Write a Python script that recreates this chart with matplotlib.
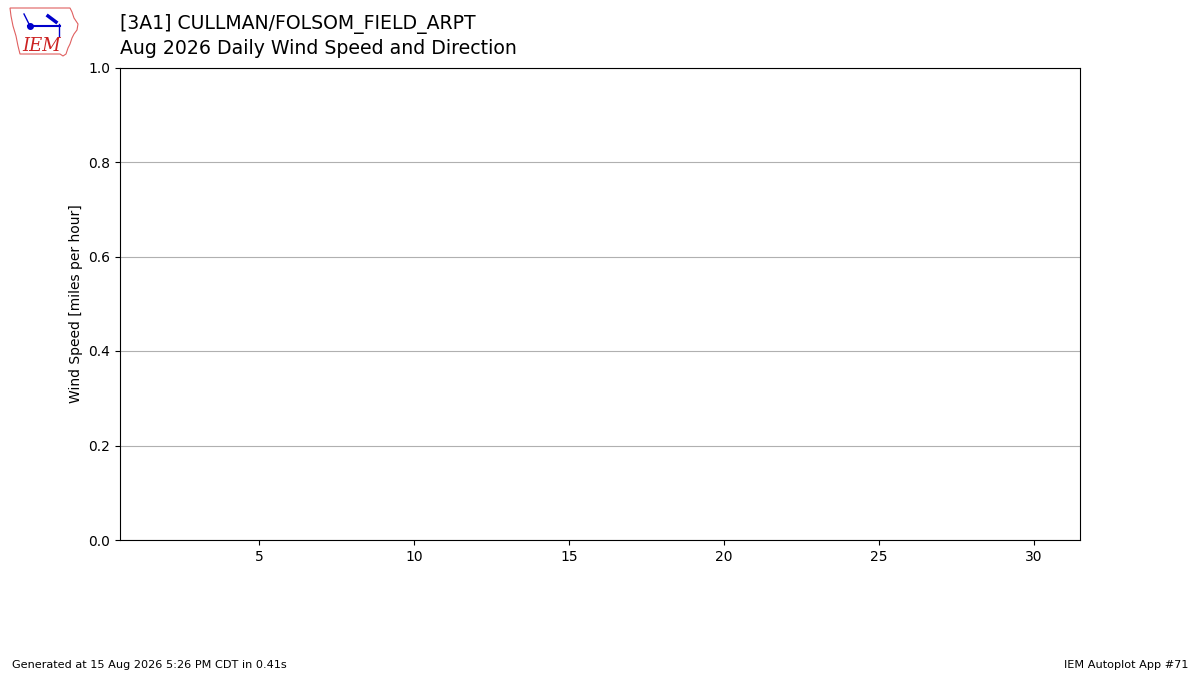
import matplotlib
matplotlib.use('Agg')
import matplotlib.pyplot as plt
from matplotlib.patches import Polygon

# -------------------------- data (no observations for this month) --------------------------
station = "[3A1] CULLMAN/FOLSOM_FIELD_ARPT"
subtitle = "Aug 2026 Daily Wind Speed and Direction"
days = []          # day of month with data
speeds = []        # average wind speed [mph]
x_ticks = [5, 10, 15, 20, 25, 30]
y_ticks = [0.0, 0.2, 0.4, 0.6, 0.8, 1.0]

fig = plt.figure(figsize=(12, 6.75), dpi=100)
ax = fig.add_axes([0.1, 0.2, 0.8, 0.7])

ax.bar(days, speeds, color='tab:blue')
ax.set_xlim(0.5, 31.5)
ax.set_ylim(0, 1)
ax.set_xticks(x_ticks)
ax.set_yticks(y_ticks)
ax.grid(True, axis='y')
ax.set_axisbelow(True)
ax.set_ylabel("Wind Speed [miles per hour]")

# titles
fig.text(0.1, 1 - 24 / 675, station, fontsize=13.6, ha='left', va='center')
fig.text(0.1, 1 - 48 / 675, subtitle, fontsize=13.6, ha='left', va='center')

# footer
fig.text(0.01, 1 - 665 / 675, "Generated at 15 Aug 2026 5:26 PM CDT in 0.41s",
         fontsize=8.15, ha='left', va='center')
fig.text(0.99, 1 - 665 / 675, "IEM Autoplot App #71",
         fontsize=8.15, ha='right', va='center')

# -------------------------- rough IEM logo --------------------------
lax = fig.add_axes([8 / 1200, 1 - 58 / 675, 72 / 1200, 52 / 675])
lax.set_xlim(0, 72)
lax.set_ylim(52, 0)
lax.axis('off')
iowa = [(2, 2), (62, 2), (64, 6), (66, 12), (70, 18), (69, 24), (66, 28), (64, 32),
        (62, 38), (60, 42), (58, 48), (55, 50), (52, 48), (12, 48), (10, 40),
        (8, 30), (5, 20), (3, 10)]
lax.add_patch(Polygon(iowa, closed=True, fill=False, edgecolor='#e06060', linewidth=0.8))
lax.plot([20, 52], [20, 20], color='#0000cc', linewidth=1.5)
lax.plot([22], [20], 'o', color='#0000cc', markersize=4)
lax.plot([16, 22], [8, 20], color='#0000cc', linewidth=1)
lax.plot([40, 48], [10, 16], color='#0000cc', linewidth=2.5)
lax.plot([51, 51], [18, 30], color='#0000cc', linewidth=1)
lax.text(14, 40, "IEM", color='#cc2222', fontsize=13, fontstyle='italic',
         family='DejaVu Serif', ha='left', va='center')

fig.savefig('out.png', dpi=100)
